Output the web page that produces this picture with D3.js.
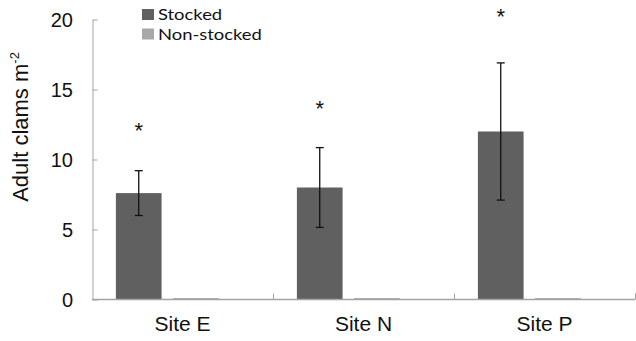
<!DOCTYPE html>
<html>
<head>
<meta charset="utf-8">
<script src="https://cdn.jsdelivr.net/npm/d3@7"></script>
<style>
  html, body { margin: 0; padding: 0; background: #fff; }
  svg { display: block; }
</style>
</head>
<body>
<script>
// Adult clam density by site, stocked vs. non-stocked plots
const sites = ["Site E", "Site N", "Site P"];
const seriesNames = ["Stocked", "Non-stocked"];
const stockedMean = [7.6, 8.0, 12.0];
const stockedErr = [1.6, 2.85, 4.9];
const nonStockedMean = [0.1, 0.1, 0.1];
const significant = ["*", "*", "*"];
const markerLevel = [12.3, 13.9, 20.5];
const yTicks = [0, 5, 10, 15, 20];

const W = 636, H = 341;
const colors = { "Stocked": "#606060", "Non-stocked": "#a8a8a8" };
const axisColor = "#a3a3a3";
const sans = "Liberation Sans, Arial, sans-serif";

const svg = d3.select("body").append("svg").attr("width", W).attr("height", H);

const x0 = d3.scaleBand().domain(sites).range([92, 635]).padding(0);
const bw = x0.bandwidth();
const x1 = d3.scaleBand().domain(seriesNames).range([bw * 0.132, bw * 0.70]).paddingInner(0.2);
const y = d3.scaleLinear().domain([0, 20]).range([299.5, 19.5]);

// y axis: line with short inward ticks
const yAxis = d3.axisRight(y).tickValues(yTicks).tickSize(5).tickSizeOuter(0).tickFormat("");
const gy = svg.append("g").attr("transform", "translate(92.5,0)").call(yAxis);
gy.selectAll("path, line").attr("stroke", axisColor);

// y tick labels
svg.append("g").selectAll("text").data(yTicks).join("text")
  .attr("x", 73).attr("y", d => y(d) + 7)
  .attr("text-anchor", "end")
  .attr("font-family", sans)
  .attr("font-size", 20).attr("fill", "#111")
  .text(d => d);

// y title
const title = svg.append("text")
  .attr("transform", "translate(28,127) rotate(-90)")
  .attr("text-anchor", "middle")
  .attr("font-family", sans)
  .attr("font-size", 22).attr("fill", "#111");
title.append("tspan").text("Adult clams m");
title.append("tspan").attr("font-size", 13).attr("dy", -9).text("-2");

// bars
const rows = sites.map((s, i) => ({
  site: s,
  vals: [
    { key: "Stocked", v: stockedMean[i], e: stockedErr[i] },
    { key: "Non-stocked", v: nonStockedMean[i], e: null }
  ]
}));

const g = svg.append("g");
const groups = g.selectAll("g.site").data(rows).join("g")
  .attr("class", "site")
  .attr("transform", d => `translate(${x0(d.site)},0)`);

groups.selectAll("rect").data(d => d.vals).join("rect")
  .attr("x", d => x1(d.key))
  .attr("width", x1.bandwidth())
  .attr("y", d => y(d.v))
  .attr("height", d => y(0) - y(d.v))
  .attr("fill", d => colors[d.key]);

// error bars
const eb = groups.selectAll("g.err").data(d => d.vals.filter(v => v.e != null)).join("g").attr("class", "err");
const cx = d => x1(d.key) + x1.bandwidth() / 2;
eb.append("line")
  .attr("x1", cx).attr("x2", cx)
  .attr("y1", d => y(d.v + d.e)).attr("y2", d => y(d.v - d.e))
  .attr("stroke", "#111").attr("stroke-width", 1.3);
eb.selectAll("line.cap").data(d => [{ c: cx(d), yv: d.v + d.e }, { c: cx(d), yv: d.v - d.e }]).join("line")
  .attr("class", "cap")
  .attr("x1", d => d.c - 4).attr("x2", d => d.c + 4)
  .attr("y1", d => y(d.yv)).attr("y2", d => y(d.yv))
  .attr("stroke", "#111").attr("stroke-width", 1.3);

// significance markers
g.selectAll("text.sig").data(sites).join("text")
  .attr("class", "sig")
  .attr("x", (s) => x0(s) + x1("Stocked") + x1.bandwidth() / 2)
  .attr("y", (s, i) => y(markerLevel[i]) + 11)
  .attr("text-anchor", "middle")
  .attr("font-family", sans)
  .attr("font-size", 22).attr("fill", "#111")
  .text((s, i) => significant[i]);

// x axis with upward ticks at category boundaries
svg.append("line")
  .attr("x1", 92).attr("x2", 635).attr("y1", y(0)).attr("y2", y(0))
  .attr("stroke", axisColor).attr("stroke-width", 1.3);
svg.append("g").selectAll("line").data(sites.slice(1).map(s => x0(s)).concat([x0.range()[1]])).join("line")
  .attr("x1", d => d + 0.5).attr("x2", d => d + 0.5)
  .attr("y1", y(0)).attr("y2", y(0) - 6)
  .attr("stroke", axisColor);

// category labels
svg.append("g").selectAll("text").data(sites).join("text")
  .attr("x", d => x0(d) + bw / 2)
  .attr("y", 331)
  .attr("text-anchor", "middle")
  .attr("font-family", sans)
  .attr("font-size", 21).attr("fill", "#111")
  .text(d => d);

// legend
const leg = svg.append("g").selectAll("g").data(seriesNames).join("g")
  .attr("transform", (d, i) => `translate(142,${9 + i * 19.5})`);
leg.append("rect").attr("width", 12).attr("height", 11).attr("fill", d => colors[d]);
leg.append("text")
  .attr("transform", "translate(16,11) scale(1.15,1)")
  .attr("font-family", "Lato, sans-serif")
  .attr("font-size", 16).attr("fill", "#111")
  .text(d => d);
</script>
</body>
</html>
